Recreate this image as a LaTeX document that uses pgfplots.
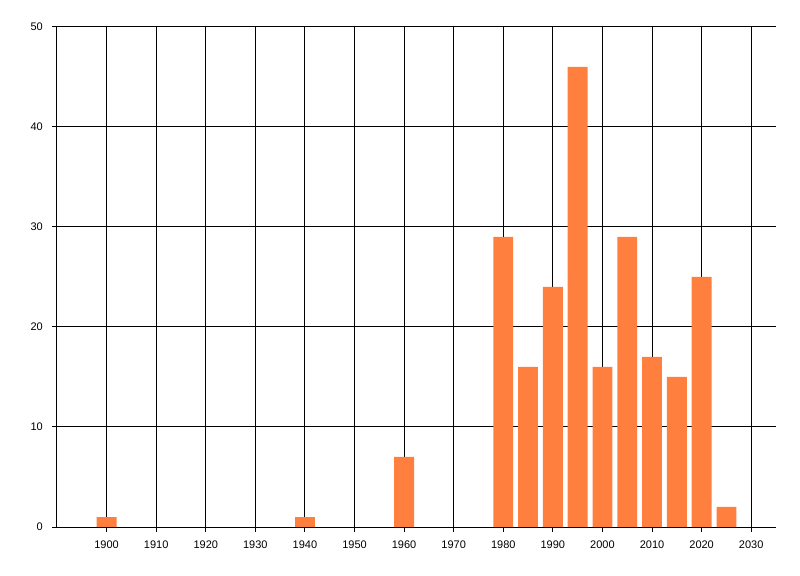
\documentclass[border=0pt]{standalone}
\usepackage{pgfplots}
\pgfplotsset{compat=1.18}
\usepackage{fontspec}
\setmainfont{Liberation Sans}
\definecolor{barorange}{RGB}{255,127,63}
\begin{document}
\begin{tikzpicture}
\begin{axis}[
  scale only axis,
  width=719bp, height=500bp,
  xmin=1890, xmax=2035,
  ymin=0, ymax=50,
  axis x line*=bottom, axis y line*=left,
  axis line style={-, black, line width=1bp},
  xtick={1900,1910,...,2030},
  ytick={0,10,...,50},
  xticklabel style={anchor=north, inner sep=0pt, yshift=-9bp},
  yticklabel style={anchor=east, inner sep=0pt, xshift=-9bp},
  tick align=outside,
  major tick length=5bp,
  xtick style={black, line width=1bp},
  ytick style={black, line width=1bp},
  grid=major,
  major grid style={black, line width=1bp},
  /pgf/number format/assume math mode=true,
  /pgf/number format/1000 sep={},
  ticklabel style={font=\fontsize{11bp}{13bp}\selectfont, text=black},
  ybar, bar width=4,
]
\addplot[fill=barorange, draw=none] coordinates {
  (1900,1) (1940,1) (1960,7) (1980,29) (1985,16) (1990,24) (1995,46)
  (2000,16) (2005,29) (2010,17) (2015,15) (2020,25) (2025,2)
};
\end{axis}
\pgfresetboundingbox
\path[use as bounding box] (-57bp,-49bp) rectangle (743bp,527bp);
\end{tikzpicture}
\end{document}
